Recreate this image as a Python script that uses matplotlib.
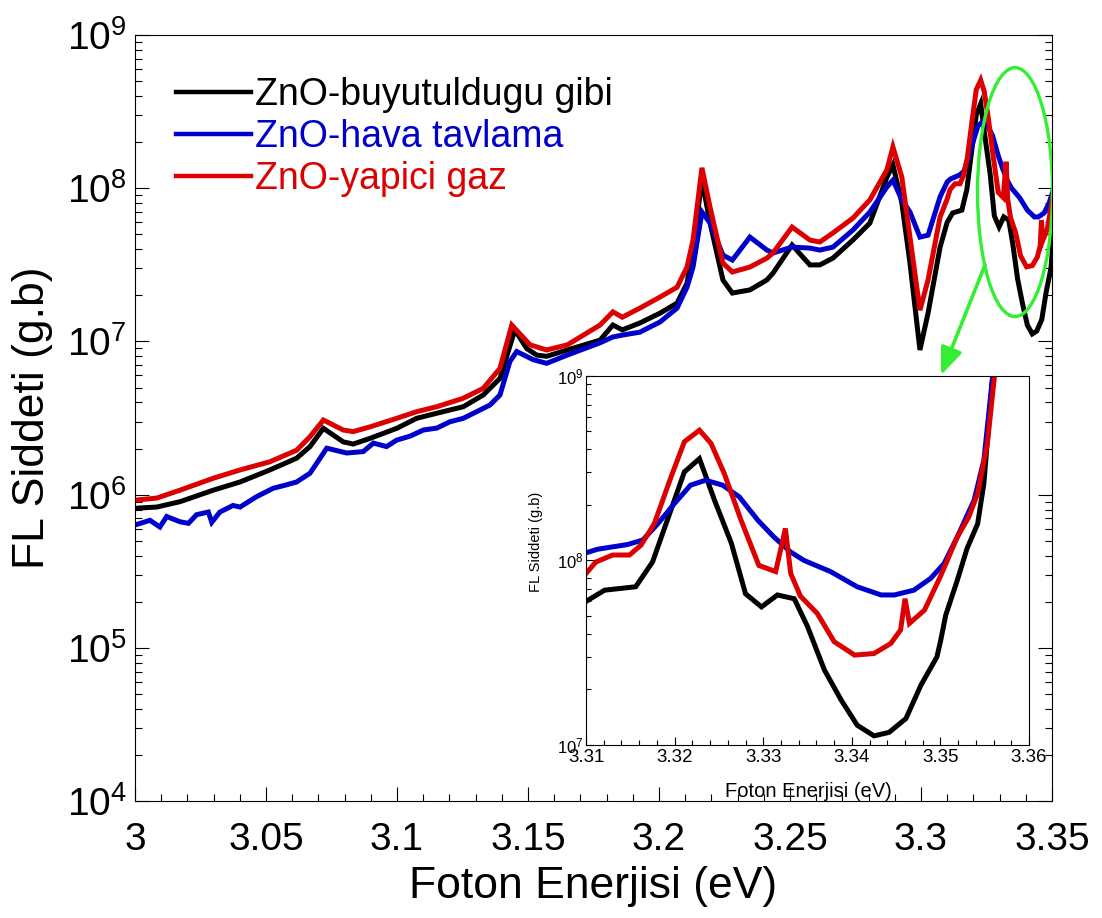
import matplotlib
matplotlib.use("Agg")
import matplotlib.pyplot as plt
from matplotlib.patches import Ellipse
from matplotlib.ticker import LogLocator, MultipleLocator, NullFormatter

plt.rcParams["font.family"] = ["Liberation Sans", "DejaVu Sans"]
plt.rcParams["mathtext.fontset"] = "custom"
plt.rcParams["mathtext.rm"] = "Liberation Sans"

# ZnO-buyutuldugu gibi
e_siyah = [3.0000, 3.0083, 3.0172, 3.0299, 3.0401, 3.0515, 3.0617, 3.0668, 3.0719, 3.0795,
           3.0833, 3.0897, 3.0999, 3.1075, 3.1152, 3.1253, 3.1329, 3.1393, 3.1450, 3.1495,
           3.1533, 3.1571, 3.1650, 3.1775, 3.1824, 3.1860, 3.1927, 3.2004, 3.2069, 3.2107,
           3.2130, 3.2164, 3.2195, 3.2244, 3.2280, 3.2347, 3.2412, 3.2435, 3.2508, 3.2576,
           3.2614, 3.2664, 3.2740, 3.2805, 3.2870, 3.2893, 3.2927, 3.2958, 3.2996, 3.3027,
           3.3073, 3.3100, 3.3121, 3.3156, 3.3175, 3.3211, 3.3228, 3.3245, 3.3264, 3.3280,
           3.3298, 3.3316, 3.3335, 3.3350, 3.3369, 3.3388, 3.3406, 3.3425, 3.3442, 3.3461,
           3.3478, 3.3496, 3.3500, 3.3506, 3.3519, 3.3530, 3.3542, 3.3549, 3.3559, 3.3563]
fl_siyah = [8.15e5, 8.3e5, 9.0e5, 1.07e6, 1.21e6, 1.45e6, 1.73e6, 2.06e6, 2.71e6, 2.21e6,
            2.14e6, 2.33e6, 2.71e6, 3.15e6, 3.40e6, 3.75e6, 4.47e6, 5.74e6, 1.19e7, 9.0e6,
            8.15e6, 8.0e6, 8.8e6, 1.02e7, 1.28e7, 1.19e7, 1.32e7, 1.53e7, 1.78e7, 2.40e7,
            4.13e7, 1.13e8, 5.93e7, 2.52e7, 2.07e7, 2.17e7, 2.52e7, 2.79e7, 4.26e7, 3.16e7,
            3.16e7, 3.50e7, 4.59e7, 5.93e7, 1.18e8, 1.42e8, 8.0e7, 3.25e7, 8.8e6, 1.53e7,
            4.13e7, 6.0e7, 6.9e7, 7.2e7, 9.8e7, 3.02e8, 3.56e8, 2.12e8, 1.24e8, 6.6e7,
            5.6e7, 6.5e7, 6.2e7, 4.38e7, 2.55e7, 1.75e7, 1.28e7, 1.12e7, 1.17e7, 1.39e7,
            2.11e7, 3.0e7, 3.63e7, 5.06e7, 7.8e7, 1.16e8, 1.58e8, 2.61e8, 1.0e9, 1.2e9]

# ZnO-hava tavlama
e_mavi = [3.0000, 3.0057, 3.0095, 3.0121, 3.0172, 3.0204, 3.0235, 3.0280, 3.0293, 3.0324,
          3.0374, 3.0401, 3.0464, 3.0527, 3.0579, 3.0617, 3.0668, 3.0732, 3.0808, 3.0871,
          3.0910, 3.0960, 3.0999, 3.1050, 3.1100, 3.1152, 3.1202, 3.1253, 3.1304, 3.1355,
          3.1393, 3.1431, 3.1457, 3.1520, 3.1571, 3.1650, 3.1775, 3.1824, 3.1860, 3.1927,
          3.2004, 3.2069, 3.2107, 3.2130, 3.2164, 3.2195, 3.2244, 3.2280, 3.2347, 3.2412,
          3.2435, 3.2508, 3.2576, 3.2614, 3.2664, 3.2740, 3.2805, 3.2870, 3.2893, 3.2927,
          3.2958, 3.2996, 3.3027, 3.3073, 3.3100, 3.3113, 3.3147, 3.3164, 3.3181, 3.3200,
          3.3218, 3.3235, 3.3254, 3.3273, 3.3294, 3.3312, 3.3331, 3.3346, 3.3376, 3.3406,
          3.3433, 3.3448, 3.3470, 3.3489, 3.3504, 3.3519, 3.3538, 3.3549, 3.3559, 3.3562]
fl_mavi = [6.34e5, 6.8e5, 6.15e5, 7.2e5, 6.65e5, 6.5e5, 7.4e5, 7.7e5, 6.6e5, 7.7e5,
           8.5e5, 8.3e5, 9.7e5, 1.10e6, 1.16e6, 1.21e6, 1.38e6, 2.01e6, 1.87e6, 1.91e6,
           2.17e6, 2.06e6, 2.27e6, 2.41e6, 2.64e6, 2.72e6, 2.99e6, 3.15e6, 3.48e6, 3.85e6,
           4.47e6, 7.4e6, 8.6e6, 7.6e6, 7.2e6, 8.15e6, 9.8e6, 1.07e7, 1.10e7, 1.15e7,
           1.34e7, 1.65e7, 2.26e7, 3.06e7, 7.0e7, 5.93e7, 3.66e7, 3.40e7, 4.80e7, 3.95e7,
           3.78e7, 4.13e7, 4.07e7, 3.95e7, 4.13e7, 5.33e7, 7.0e7, 1.02e8, 1.13e8, 8.4e7,
           7.0e7, 4.80e7, 4.94e7, 8.8e7, 1.10e8, 1.15e8, 1.22e8, 1.29e8, 1.58e8, 2.04e8,
           2.56e8, 2.72e8, 2.56e8, 2.21e8, 1.65e8, 1.34e8, 1.11e8, 1.00e8, 8.7e7, 7.2e7,
           6.5e7, 6.5e7, 6.9e7, 8.0e7, 9.6e7, 1.34e8, 2.12e8, 3.49e8, 1.0e9, 1.2e9]

# ZnO-yapici gaz
e_kirmizi = [3.0000, 3.0083, 3.0172, 3.0299, 3.0401, 3.0515, 3.0617, 3.0668, 3.0719, 3.0795,
             3.0833, 3.0897, 3.0999, 3.1075, 3.1152, 3.1253, 3.1329, 3.1393, 3.1438, 3.1508,
             3.1571, 3.1650, 3.1775, 3.1824, 3.1860, 3.1927, 3.2004, 3.2069, 3.2107, 3.2130,
             3.2164, 3.2195, 3.2244, 3.2280, 3.2347, 3.2412, 3.2435, 3.2508, 3.2576, 3.2614,
             3.2664, 3.2740, 3.2805, 3.2870, 3.2893, 3.2927, 3.2958, 3.2996, 3.3027, 3.3073,
             3.3100, 3.3111, 3.3130, 3.3149, 3.3162, 3.3177, 3.3196, 3.3211, 3.3228, 3.3241,
             3.3256, 3.3275, 3.3295, 3.3314, 3.3325, 3.3331, 3.3342, 3.3361, 3.3380, 3.3403,
             3.3425, 3.3444, 3.3455, 3.3460, 3.3465, 3.3482, 3.3500, 3.3519, 3.3532, 3.3542,
             3.3553, 3.3561, 3.3564]
fl_kirmizi = [9.2e5, 9.5e5, 1.07e6, 1.28e6, 1.45e6, 1.64e6, 1.95e6, 2.39e6, 3.07e6, 2.64e6,
              2.58e6, 2.77e6, 3.15e6, 3.48e6, 3.75e6, 4.26e6, 4.94e6, 6.67e6, 1.28e7, 9.5e6,
              8.8e6, 9.5e6, 1.28e7, 1.56e7, 1.44e7, 1.65e7, 1.95e7, 2.26e7, 3.06e7, 4.59e7,
              1.36e8, 7.5e7, 3.25e7, 2.84e7, 3.06e7, 3.50e7, 3.78e7, 5.58e7, 4.59e7, 4.46e7,
              5.11e7, 6.38e7, 8.4e7, 1.32e8, 1.86e8, 1.18e8, 4.80e7, 1.60e7, 2.52e7, 6.5e7,
              8.5e7, 9.8e7, 1.07e8, 1.07e8, 1.21e8, 1.58e8, 2.84e8, 4.40e8, 5.08e8, 4.31e8,
              2.96e8, 1.65e8, 9.4e7, 8.7e7, 1.49e8, 8.5e7, 6.4e7, 5.16e7, 3.63e7, 3.07e7,
              3.13e7, 3.55e7, 4.20e7, 6.2e7, 4.56e7, 5.38e7, 8.2e7, 1.34e8, 1.72e8, 2.31e8,
              4.31e8, 1.0e9, 1.2e9]

seriler = [
    ("ZnO-buyutuldugu gibi", e_siyah, fl_siyah, "#000000"),
    ("ZnO-hava tavlama", e_mavi, fl_mavi, "#0000cc"),
    ("ZnO-yapici gaz", e_kirmizi, fl_kirmizi, "#dd0000"),
]

fig = plt.figure(figsize=(11.02, 9.18), dpi=100)
ax = fig.add_axes([0.1225, 0.1274, 0.8321, 0.8344])

for ad, e, fl, renk in seriler:
    ax.plot(e, fl, color=renk, lw=3.6, label=ad, solid_joinstyle="miter")

ax.set_yscale("log")
ax.set_xlim(3.0, 3.35)
ax.set_ylim(1e4, 1e9)
ax.xaxis.set_major_locator(MultipleLocator(0.05))
ax.xaxis.set_minor_locator(MultipleLocator(0.01))
ax.xaxis.set_major_formatter(plt.FuncFormatter(lambda v, p: f"{v:g}"))
ax.yaxis.set_minor_locator(LogLocator(base=10, subs=range(2, 10), numticks=20))
ax.yaxis.set_minor_formatter(NullFormatter())
ax.tick_params(which="both", direction="in", top=False, right=True, labelsize=28)
ax.tick_params(axis="x", which="both", pad=15)
ax.tick_params(axis="y", which="both", pad=6)
ax.tick_params(which="major", length=10, width=0.8)
ax.tick_params(which="minor", length=5, width=0.8)
for s in ax.spines.values():
    s.set_linewidth(0.8)
ax.set_xlabel("Foton Enerjisi (eV)", fontsize=32, labelpad=6)
ax.set_ylabel("FL Siddeti (g.b)", fontsize=32, labelpad=10)

leg = ax.legend(loc="upper left", bbox_to_anchor=(0.02, 0.975), frameon=False, fontsize=27,
                handlelength=2.0, handletextpad=0.12, labelspacing=0.16, borderaxespad=0.2)
for metin, cizgi in zip(leg.get_texts(), leg.get_lines()):
    metin.set_color(cizgi.get_color())
    cizgi.set_linewidth(3.2)

# yesil elips ve ok
ax.add_patch(Ellipse((0.9597, 0.795), 0.0818, 0.325, transform=ax.transAxes,
                     fill=False, edgecolor="#33ee33", lw=2.4, zorder=5))
ax.annotate("", xy=(0.879, 0.556), xytext=(0.927, 0.700), xycoords="axes fraction",
            arrowprops=dict(arrowstyle="-|>,head_length=0.75,head_width=0.3",
                            mutation_scale=22, color="#33ee33", lw=2.6,
                            shrinkA=0, shrinkB=0), zorder=5)

# ic grafik
ins = fig.add_axes([0.5318, 0.1885, 0.4020, 0.4020])
ins.set_facecolor("white")
for ad, e, fl, renk in seriler:
    ins.plot(e, fl, color=renk, lw=3.6, solid_joinstyle="miter")
ins.set_yscale("log")
ins.set_xlim(3.31, 3.36)
ins.set_ylim(1e7, 1e9)
ins.xaxis.set_major_locator(MultipleLocator(0.01))
ins.xaxis.set_minor_locator(MultipleLocator(0.002))
ins.xaxis.set_major_formatter(plt.FuncFormatter(lambda v, p: f"{v:.2f}"))
ins.yaxis.set_minor_locator(LogLocator(base=10, subs=range(2, 10), numticks=20))
ins.yaxis.set_minor_formatter(NullFormatter())
ins.tick_params(which="both", direction="in", top=False, right=False)
ins.tick_params(axis="x", labelsize=13.5, pad=3)
ins.tick_params(axis="y", labelsize=12, pad=2)
ins.tick_params(which="major", length=6, width=0.8)
ins.tick_params(which="minor", length=3.5, width=0.8)
for s in ins.spines.values():
    s.set_linewidth(0.8)
ins.set_xlabel("Foton Enerjisi (eV)", fontsize=14.5)
ins.xaxis.set_label_coords(0.503, -0.10)
ins.set_ylabel("FL Siddeti (g.b)", fontsize=10.5)
ins.yaxis.set_label_coords(-0.097, 0.55)

fig.savefig("out.png", dpi=100)
